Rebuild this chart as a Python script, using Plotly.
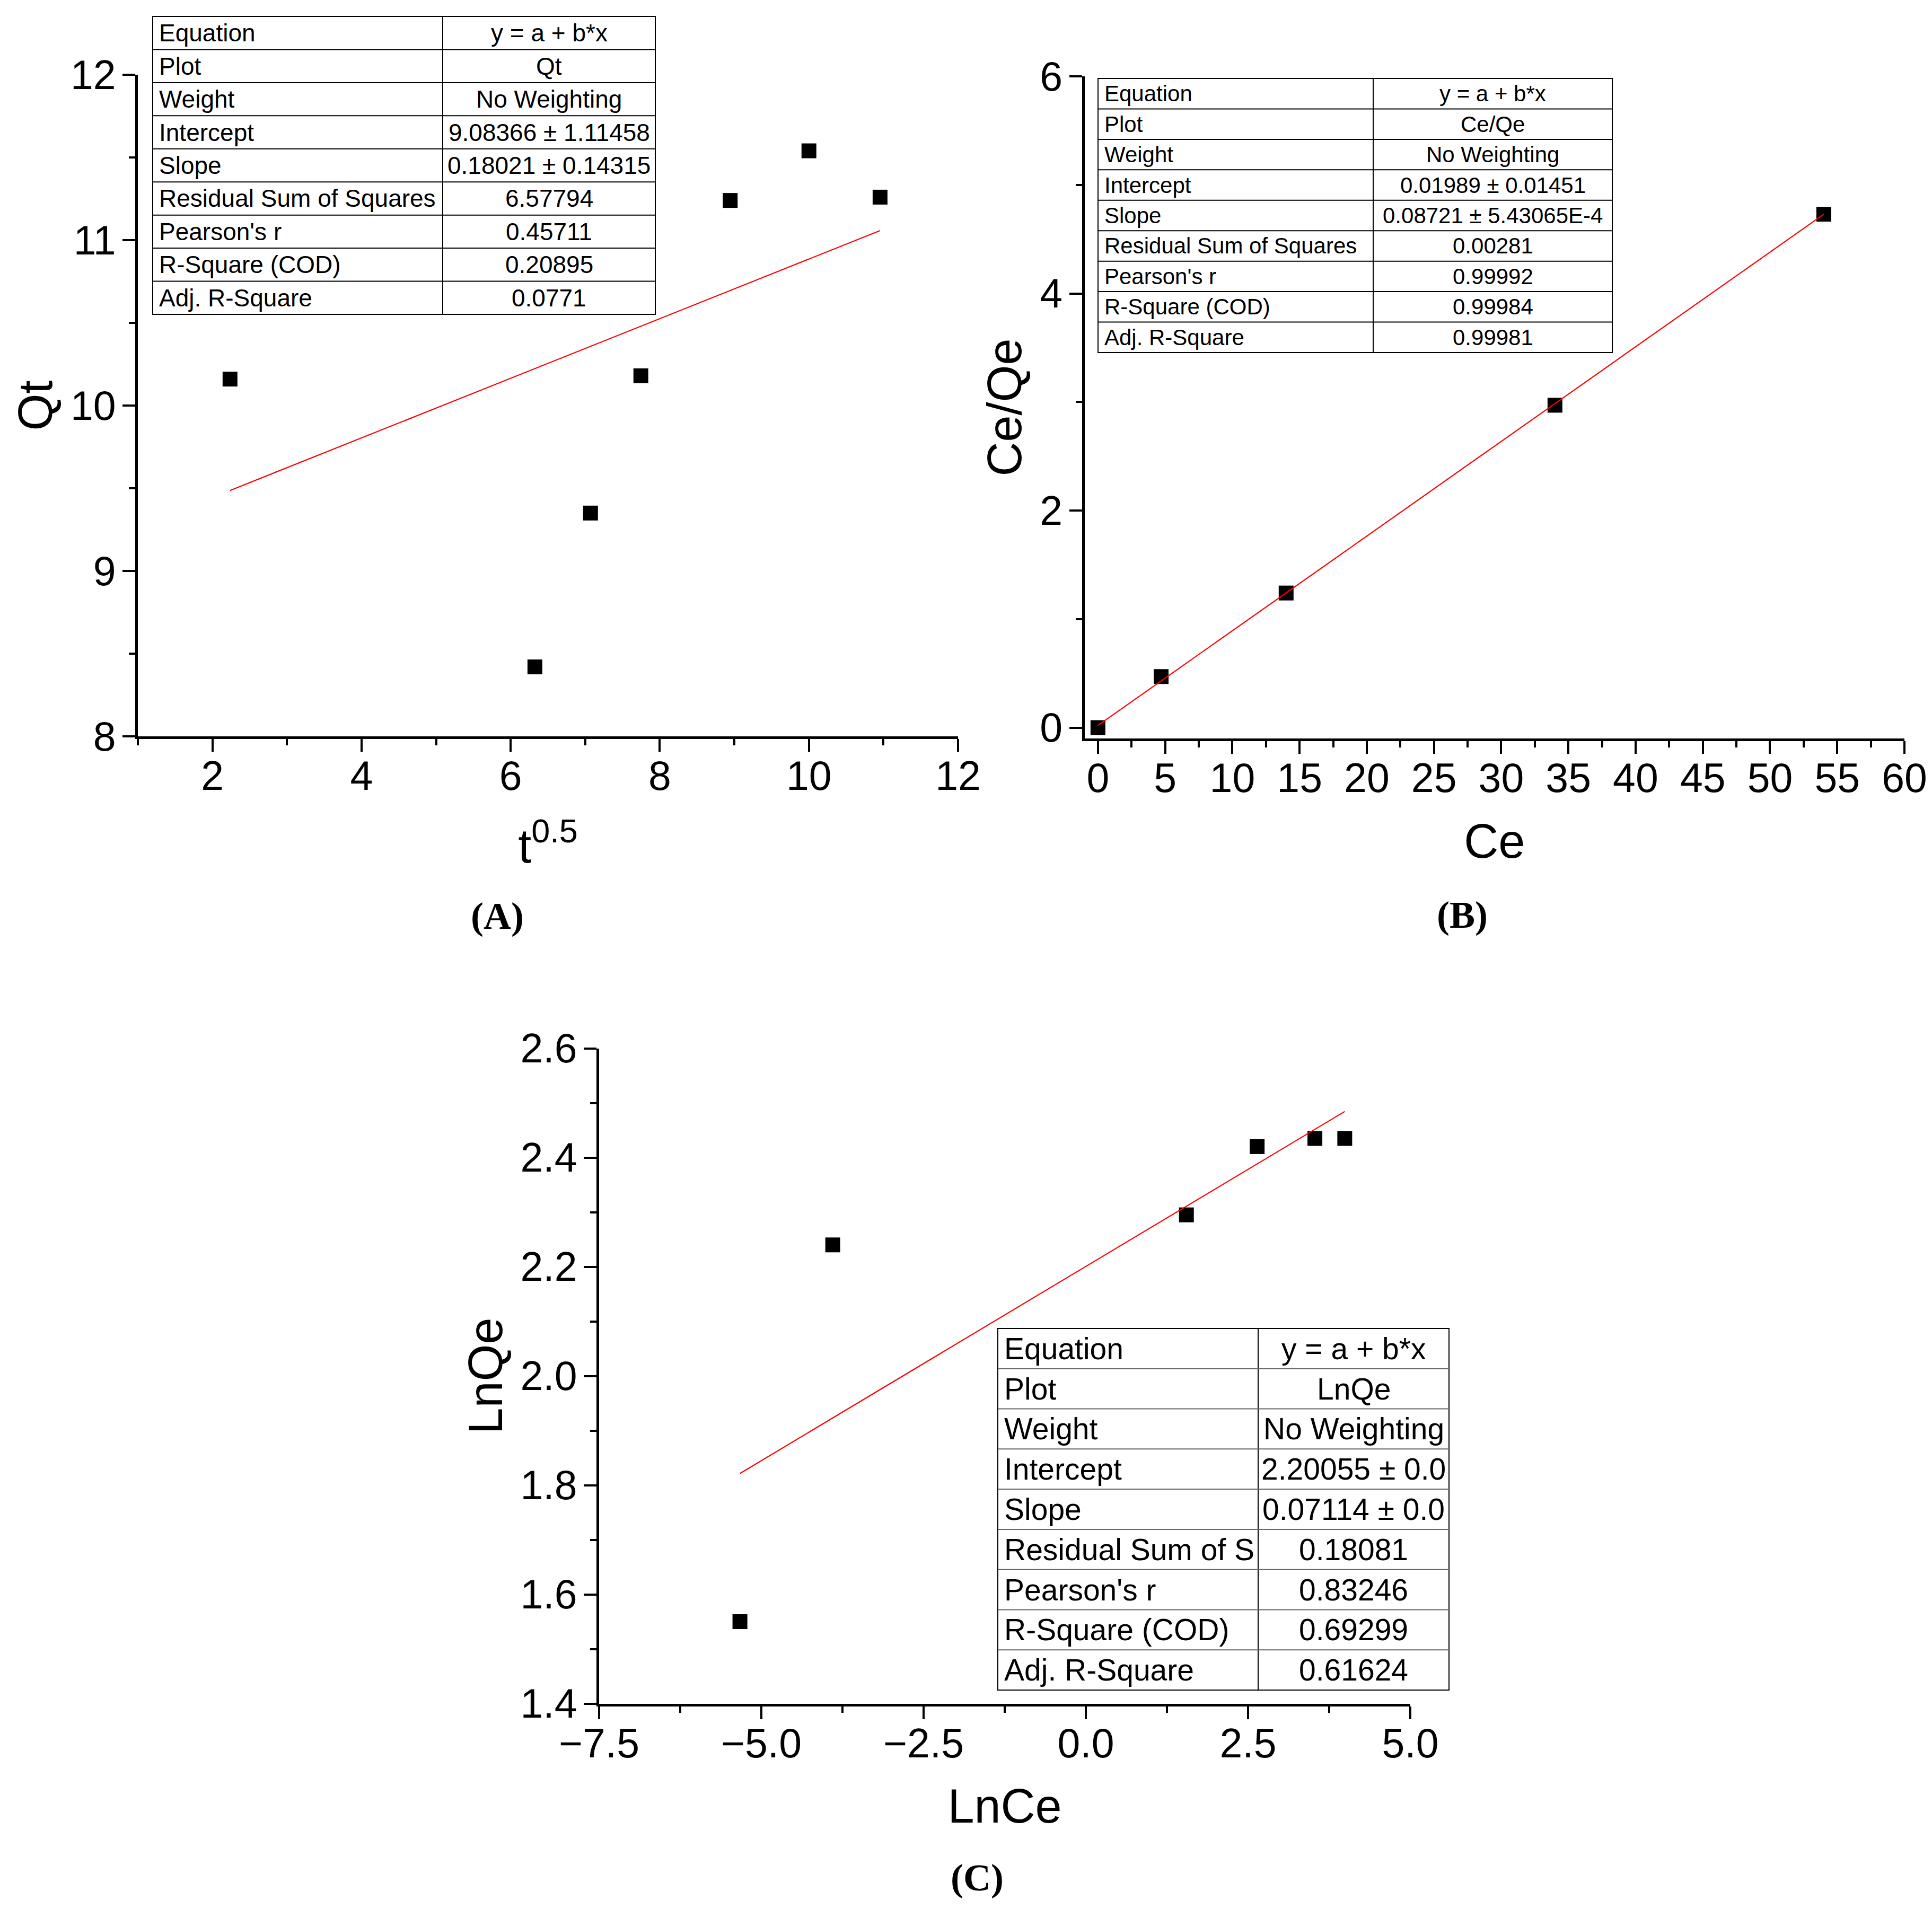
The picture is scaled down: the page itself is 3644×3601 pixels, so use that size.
import plotly.graph_objects as go

# --- DATA ---
# (A) intraparticle diffusion: Qt vs t^0.5
t_sqrt = [2.236, 6.325, 7.071, 7.746, 8.944, 10.0, 10.954]
qt = [10.16, 8.42, 9.35, 10.18, 11.24, 11.54, 11.26]
fit_a = (9.08366, 0.18021)

# (B) Langmuir: Ce/Qe vs Ce
ce = [0.0, 4.7, 14.0, 34.0, 54.0]
ce_qe = [0.0, 0.47, 1.24, 2.97, 4.73]
fit_b = (0.01989, 0.08721)

# (C) Freundlich: LnQe vs LnCe
ln_ce = [-5.33, -3.90, 1.55, 2.64, 3.53, 3.99]
ln_qe = [1.55, 2.24, 2.295, 2.42, 2.435, 2.435]
fit_c = (2.20055, 0.07114)

table_rows = ["Equation", "Plot", "Weight", "Intercept", "Slope",
              "Residual Sum of Squares", "Pearson's r", "R-Square (COD)", "Adj. R-Square"]
table_rows_c = table_rows[:5] + ["Residual Sum of S"] + table_rows[6:]
values_a = ["y = a + b*x", "Qt", "No Weighting", "9.08366 ± 1.11458", "0.18021 ± 0.14315",
            "6.57794", "0.45711", "0.20895", "0.0771"]
values_b = ["y = a + b*x", "Ce/Qe", "No Weighting", "0.01989 ± 0.01451", "0.08721 ± 5.43065E-4",
            "0.00281", "0.99992", "0.99984", "0.99981"]
values_c = ["y = a + b*x", "LnQe", "No Weighting", "2.20055 ± 0.0", "0.07114 ± 0.0",
            "0.18081", "0.83246", "0.69299", "0.61624"]
# -------------------------------------

W, H = 3644, 3601
FONT = "Liberation Sans"


def px(x):
    return x / W


def py(y):
    return 1 - y / H


fig = go.Figure()


def add_panel(n, xs, ys, fit):
    xa = "x" if n == 1 else f"x{n}"
    ya = "y" if n == 1 else f"y{n}"
    fig.add_trace(go.Scatter(x=xs, y=ys, mode="markers", xaxis=xa, yaxis=ya,
                             marker=dict(symbol="square", size=28, color="black"),
                             showlegend=False))
    a, b = fit
    x_line = [min(xs), max(xs)]
    fig.add_trace(go.Scatter(x=x_line, y=[a + b * v for v in x_line], mode="lines",
                             xaxis=xa, yaxis=ya, line=dict(color="red", width=2.2),
                             showlegend=False))


add_panel(1, t_sqrt, qt, fit_a)
add_panel(2, ce, ce_qe, fit_b)
add_panel(3, ln_ce, ln_qe, fit_c)


def axis(dom, rng, dtick, minor, title, standoff, anchor, lab_off, fmt=None):
    d = dict(domain=dom, range=rng, dtick=dtick, tick0=0, anchor=anchor,
             automargin=False,
             showline=True, linewidth=5, linecolor="black", mirror=False,
             showgrid=False, zeroline=False,
             ticks="outside", ticklen=24, tickwidth=4, tickcolor="black",
             ticklabelstandoff=lab_off,
             minor=dict(ticks="outside", ticklen=12, tickwidth=4, tickcolor="black",
                        dtick=minor, showgrid=False),
             tickfont=dict(family=FONT, size=77, color="black"),
             title=dict(text=title, font=dict(family=FONT, size=90, color="black"),
                        standoff=standoff))
    if fmt:
        d["tickformat"] = fmt
    return d


fig.update_layout(
    width=W, height=H,
    margin=dict(l=0, r=0, t=0, b=0, autoexpand=False),
    paper_bgcolor="white", plot_bgcolor="white",
    xaxis=axis([px(252), px(1799)], [1, 12], 2, 1, "t<sup>0.5</sup>", 60, "y", -20),
    yaxis=axis([py(1381), py(133)], [8, 12], 1, 0.5, "Qt", 6, "x", -3),
    xaxis2=axis([px(2037.5), px(3584)], [-1, 60], 5, 2.5, "Ce", 47, "y2", -20),
    yaxis2=axis([py(1385), py(136)], [-0.1, 6], 2, 1, "Ce/Qe", 6, "x2", -3),
    xaxis3=axis([px(1122), px(2652)], [-7.5, 5], 2.5, 1.25, "LnCe", 47, "y3", -20, ".1f"),
    yaxis3=axis([py(3205.5), py(1969.5)], [1.4, 2.6], 0.2, 0.1, "LnQe", 6, "x3", -3, ".1f"),
)


def add_table(left, right, col, top, bottom, labels, values, size, inner="black"):
    n = len(labels)
    rh = (bottom - top) / n
    line = dict(color="black", width=2)
    fig.add_shape(type="rect", xref="paper", yref="paper",
                  x0=px(left), x1=px(right), y0=py(bottom), y1=py(top),
                  line=line, fillcolor="white", layer="above")
    fig.add_shape(type="line", xref="paper", yref="paper",
                  x0=px(col), x1=px(col), y0=py(bottom), y1=py(top), line=line)
    for i in range(1, n):
        yy = py(top + i * rh)
        fig.add_shape(type="line", xref="paper", yref="paper",
                      x0=px(left), x1=px(right), y0=yy, y1=yy,
                      line=dict(color=inner, width=2))
    for i, (lab, val) in enumerate(zip(labels, values)):
        yc = py(top + (i + 0.5) * rh)
        fig.add_annotation(x=px(left + 10), y=yc, xref="paper", yref="paper",
                           text=lab, showarrow=False, xanchor="left", yanchor="middle",
                           font=dict(family=FONT, size=size, color="black"))
        fig.add_annotation(x=px((col + right) / 2), y=yc, xref="paper", yref="paper",
                           text=val, showarrow=False, xanchor="center", yanchor="middle",
                           font=dict(family=FONT, size=size, color="black"))


add_table(280, 1228, 827, 23, 585, table_rows, values_a, 46)
add_table(2063, 3033, 2582, 140, 657, table_rows, values_b, 42)
add_table(1874, 2725, 2365, 2498, 3180, table_rows_c, values_c, 57, inner="#666666")

for lab, x, y in [("(A)", 930, 1720), ("(B)", 2750, 1718), ("(C)", 1835, 3534)]:
    fig.add_annotation(x=px(x), y=py(y), xref="paper", yref="paper", text=f"<b>{lab}</b>",
                       showarrow=False, xanchor="center", yanchor="middle",
                       font=dict(family="Liberation Serif", size=72, color="black"))

fig.write_html("out.html")
